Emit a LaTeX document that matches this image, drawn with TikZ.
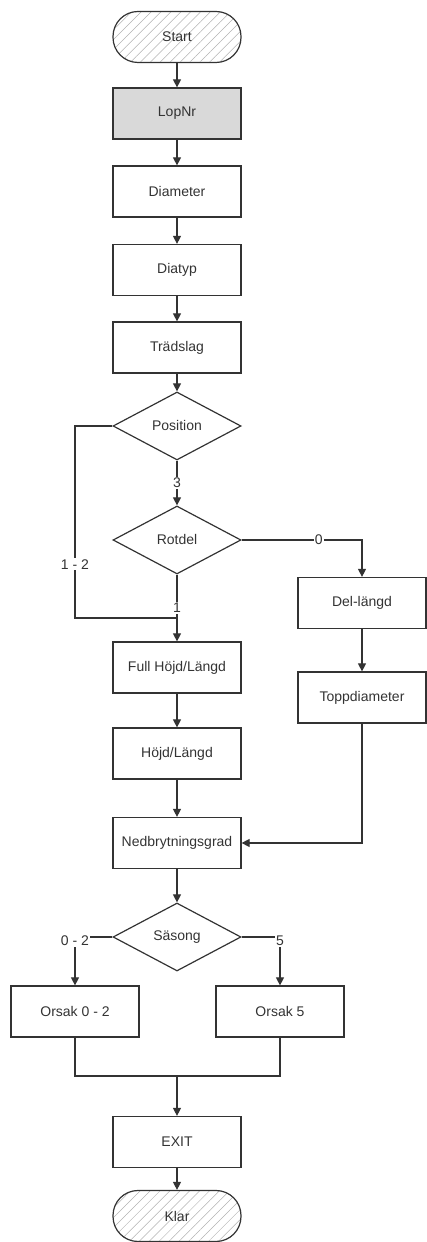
\documentclass[tikz,border=0pt]{standalone}
\usepackage{fontspec}
\setmainfont{Liberation Sans}
\usetikzlibrary{shapes.geometric,arrows.meta,patterns.meta}

\begin{document}
\begin{tikzpicture}[
  x=1pt,y=1pt,
  font=\fontsize{14}{16}\selectfont,
  every node/.style={text=black!80},
  stepbox/.style={rectangle,draw=black!80,line width=1.2pt,minimum width=128pt,minimum height=51pt,inner sep=2pt},
  termbox/.style={rectangle,rounded corners=25pt,draw=black!80,line width=1.2pt,minimum width=128pt,minimum height=51pt,
    pattern={Lines[angle=45,distance=7pt,line width=0.5pt]},pattern color=black!30},
  choice/.style={diamond,aspect=2,draw=black!80,line width=1.2pt,minimum width=128pt,minimum height=68pt,inner sep=0pt},
  arrow/.style={-{Triangle[length=8pt,width=8pt]},line width=1.2pt,draw=black!80},
  flow/.style={line width=1.2pt,draw=black!80},
  lbl/.style={fill=white,inner sep=1pt}
]
\useasboundingbox (0,0) rectangle (427,1242);

\node[termbox] (start) at (177,1205) {Start};
\node[stepbox,fill=black!15] (lopnr) at (177,1128.5) {LopNr};
\node[stepbox] (diameter) at (177,1050.5) {Diameter};
\node[stepbox] (diatyp) at (177,972) {Diatyp};
\node[stepbox] (tradslag) at (177,894.5) {Trädslag};
\node[choice] (position) at (177,816) {Position};
\node[choice] (rotdel) at (177,702) {Rotdel};
\node[stepbox] (dellangd) at (362,639) {Del-längd};
\node[stepbox] (toppdia) at (362,544.5) {Toppdiameter};
\node[stepbox] (fullhojd) at (177,574.5) {Full Höjd/Längd};
\node[stepbox] (hojd) at (177,488.5) {Höjd/Längd};
\node[stepbox] (nedbr) at (177,399) {Nedbrytningsgrad};
\node[choice] (sasong) at (177,305) {Säsong};
\node[stepbox] (orsak02) at (75,230.5) {Orsak 0 - 2};
\node[stepbox] (orsak5) at (280,230.5) {Orsak 5};
\node[stepbox] (exit) at (177,100) {EXIT};
\node[termbox] (klar) at (177,26) {Klar};

\coordinate (bypass) at (75,624);
\coordinate (merge) at (177,166);

\foreach \a/\b in {start/lopnr,lopnr/diameter,diameter/diatyp,diatyp/tradslag,tradslag/position,
  fullhojd/hojd,hojd/nedbr,nedbr/sasong,dellangd/toppdia,exit/klar}
  \draw[arrow] (\a) -- (\b);

\draw[arrow] (position) -- node[lbl]{3} (rotdel);
\draw[arrow] (rotdel) -- node[lbl]{1} (fullhojd);
\draw[flow] (position.west) -| node[lbl,pos=0.86]{1 - 2} (bypass) -- (fullhojd.north |- bypass);
\draw[arrow] (rotdel.east) -| node[lbl,pos=0.32]{0} (dellangd.north);
\draw[arrow] (toppdia.south) |- (nedbr.east);
\draw[arrow] (sasong.west) -| node[lbl,yshift=-4pt]{0 - 2} (orsak02.north);
\draw[arrow] (sasong.east) -| node[lbl,yshift=-4pt]{5} (orsak5.north);
\draw[flow] (orsak02.south) |- (merge) -| (orsak5.south);
\draw[arrow] (merge) -- (exit);
\end{tikzpicture}
\end{document}
